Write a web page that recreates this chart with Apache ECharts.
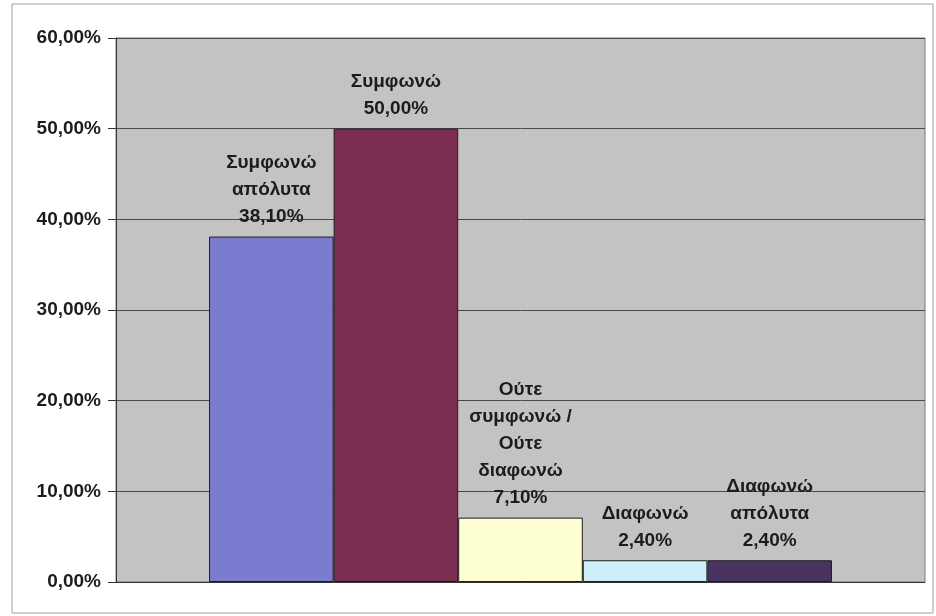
<!DOCTYPE html>
<html>
<head>
<meta charset="utf-8">
<script src="https://cdn.jsdelivr.net/npm/echarts@6/dist/echarts.min.js"></script>
<style>
  html, body { margin: 0; padding: 0; background: #fff; }
  #chart { width: 936px; height: 616px; }
</style>
</head>
<body>
<div id="chart"></div>
<script>
// answers (label text, as wrapped in the original)
const answers = [
  'Συμφωνώ\nαπόλυτα',
  'Συμφωνώ',
  'Ούτε\nσυμφωνώ /\nΟύτε\nδιαφωνώ',
  'Διαφωνώ',
  'Διαφωνώ\nαπόλυτα'
]
// percentages
const shares = [38.1, 50.0, 7.1, 2.4, 2.4]
const yTicks = [0, 10, 20, 30, 40, 50, 60]

const barColors = ['#7b7bcf', '#7b2e50', '#ffffd4', '#cdeff9', '#4a3360']
const font = "'Liberation Sans', Arial, sans-serif"

const pct = v => v.toFixed(2).replace('.', ',') + '%'

const chart = echarts.init(document.getElementById('chart'))

const series = answers.map((name, i) => ({
  name: name,
  type: 'bar',
  data: [shares[i]],
  barGap: '0%',
  barCategoryGap: '23%',
  itemStyle: {
    color: barColors[i],
    borderColor: '#1e1e1e',
    borderWidth: 1
  },
  label: {
    show: true,
    position: 'top',
    distance: 6,
    formatter: p => p.seriesName + '\n' + pct(p.value),
    color: '#1c1c1c',
    fontFamily: font,
    fontWeight: 'bold',
    fontSize: 19,
    lineHeight: 27
  }
}))

chart.setOption({
  animation: false,
  grid: {
    left: 116,
    right: 11,
    top: 38,
    bottom: 34,
    show: true,
    backgroundColor: '#c3c3c3',
    borderColor: '#7a7a7a',
    borderWidth: 1
  },
  graphic: [{
    type: 'rect',
    shape: { x: 12, y: 4, width: 921, height: 609 },
    style: { fill: 'none', stroke: '#a0a0a0', lineWidth: 1 },
    silent: true
  }],
  xAxis: {
    type: 'category',
    data: [''],
    axisLine: { show: true, lineStyle: { color: '#333', width: 1 } },
    axisTick: { show: false },
    axisLabel: { show: false }
  },
  yAxis: {
    type: 'value',
    min: yTicks[0],
    max: yTicks[yTicks.length - 1],
    interval: 10,
    axisLine: { show: true, lineStyle: { color: '#333', width: 1 } },
    axisTick: { show: true, length: 8, lineStyle: { color: '#333' } },
    axisLabel: {
      margin: 15,
      formatter: v => pct(v),
      color: '#1c1c1c',
      fontFamily: font,
      fontWeight: 'bold',
      fontSize: 19
    },
    splitLine: { show: true, lineStyle: { color: '#4a4a4a', width: 1 } }
  },
  series: series
})
</script>
</body>
</html>
